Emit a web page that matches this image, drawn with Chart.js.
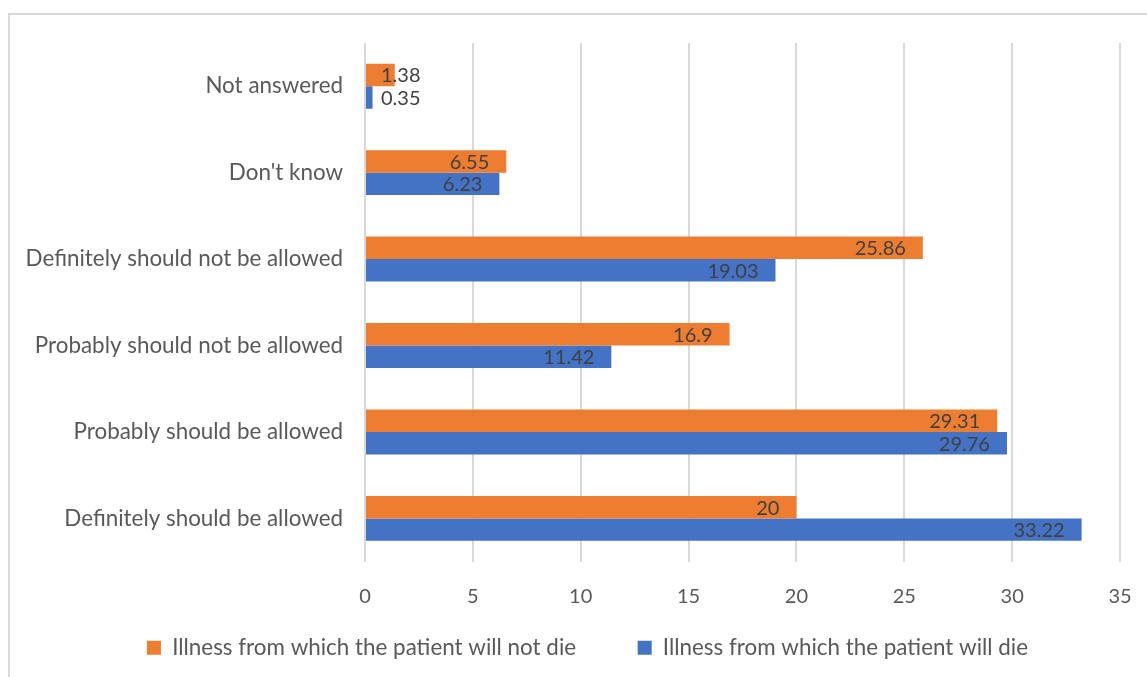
<!DOCTYPE html>
<html><head><meta charset="utf-8">
<script src="https://cdn.jsdelivr.net/npm/chart.js@4.4.1/dist/chart.umd.min.js"></script>
<style>
html,body{margin:0;padding:0;background:#fff;overflow:hidden;}
#wrap{position:relative;width:1147px;height:677px;overflow:hidden;}
#frame{position:absolute;left:8px;top:13px;width:1200px;height:700px;border:2px solid #d9d9d9;box-sizing:border-box;pointer-events:none;}
canvas{position:absolute;left:0;top:0;}
</style></head><body>
<div id="wrap"><div id="frame"></div><canvas id="c" width="1147" height="677"></canvas></div>
<script>
const categories = ["Not answered", "Don't know", "Definitely should not be allowed", "Probably should not be allowed", "Probably should be allowed", "Definitely should be allowed"];
const seriesNames = ["Illness from which the patient will not die", "Illness from which the patient will die"];
const valuesWillNotDie = [1.38, 6.55, 25.86, 16.9, 29.31, 20];
const valuesWillDie = [0.35, 6.23, 19.03, 11.42, 29.76, 33.22];
const xTickValues = [0, 5, 10, 15, 20, 25, 30, 35];

const FONT = 'Lato';
const FS_TEXT = 22.4;
const FS_NUM = 20;
const PAD_L = 10, PAD_R = 27;

const valueLabels = {
  id: 'valueLabels',
  beforeDraw(chart) {
    const lg = chart.legend;
    if (lg) { lg.left = 55; lg.right = 1120; }
  },
  afterDatasetsDraw(chart) {
    const ctx = chart.ctx;
    ctx.save();
    ctx.font = FS_NUM + 'px ' + FONT;
    ctx.fillStyle = '#404040';
    ctx.textBaseline = 'middle';
    ctx.textAlign = 'left';
    chart.data.datasets.forEach((ds, di) => {
      const meta = chart.getDatasetMeta(di);
      meta.data.forEach((bar, i) => {
        const txt = String(ds.data[i]);
        const w = ctx.measureText(txt).width;
        let x = bar.x - 17 - w;
        x = Math.max(x, bar.base + 15);
        ctx.fillText(txt, x, bar.y + 1);
      });
    });
    ctx.restore();
  }
};

function build() {
  const mctx = document.createElement('canvas').getContext('2d');
  mctx.font = FS_TEXT + 'px ' + FONT;
  const spW = mctx.measureText(' ').width;
  const extraGap = 52;
  const trailing = ' '.repeat(Math.max(0, Math.round(extraGap / spW)));

  Chart.defaults.font.family = FONT;
  Chart.defaults.color = '#595959';
  new Chart(document.getElementById('c'), {
    type: 'bar',
    data: {
      labels: categories,
      datasets: [
        { label: seriesNames[0], data: valuesWillNotDie, backgroundColor: '#ED7D31', categoryPercentage: 0.52, barPercentage: 1 },
        { label: seriesNames[1], data: valuesWillDie, backgroundColor: '#4472C4', categoryPercentage: 0.52, barPercentage: 1 }
      ]
    },
    options: {
      indexAxis: 'y',
      responsive: false,
      animation: false,
      devicePixelRatio: 1,
      layout: { padding: { left: PAD_L, right: PAD_R, top: 43, bottom: 8 } },
      plugins: {
        legend: {
          position: 'bottom',
          labels: {
            boxWidth: 14, boxHeight: 14, padding: 10, color: '#595959',
            font: { family: FONT, size: FS_TEXT },
            generateLabels(chart) {
              const items = Chart.defaults.plugins.legend.labels.generateLabels(chart);
              items.forEach((it, i) => { if (i < items.length - 1) it.text = it.text + trailing; });
              return items;
            }
          }
        },
        tooltip: { enabled: false }
      },
      scales: {
        x: {
          min: 0, max: 35,
          afterBuildTicks(scale) { scale.ticks = xTickValues.map(v => ({ value: v })); },
          afterFit(scale) { scale.height = 65; },
          grid: { color: '#d9d9d9', lineWidth: 2, drawTicks: true, tickLength: 23, tickColor: 'rgba(0,0,0,0)' },
          border: { display: false },
          ticks: { padding: 0, color: '#595959', font: { family: FONT, size: FS_NUM } }
        },
        y: {
          afterFit(scale) { scale.width = 365 - PAD_L; },
          grid: { display: false, drawTicks: false },
          border: { display: false },
          ticks: { padding: 22, color: '#595959', font: { family: FONT, size: FS_TEXT } }
        }
      }
    },
    plugins: [valueLabels]
  });
}
if (document.fonts && document.fonts.load) {
  Promise.all([document.fonts.load(FS_TEXT + 'px ' + FONT), document.fonts.load(FS_NUM + 'px ' + FONT)]).then(build, build);
} else { build(); }
</script>
</body></html>
